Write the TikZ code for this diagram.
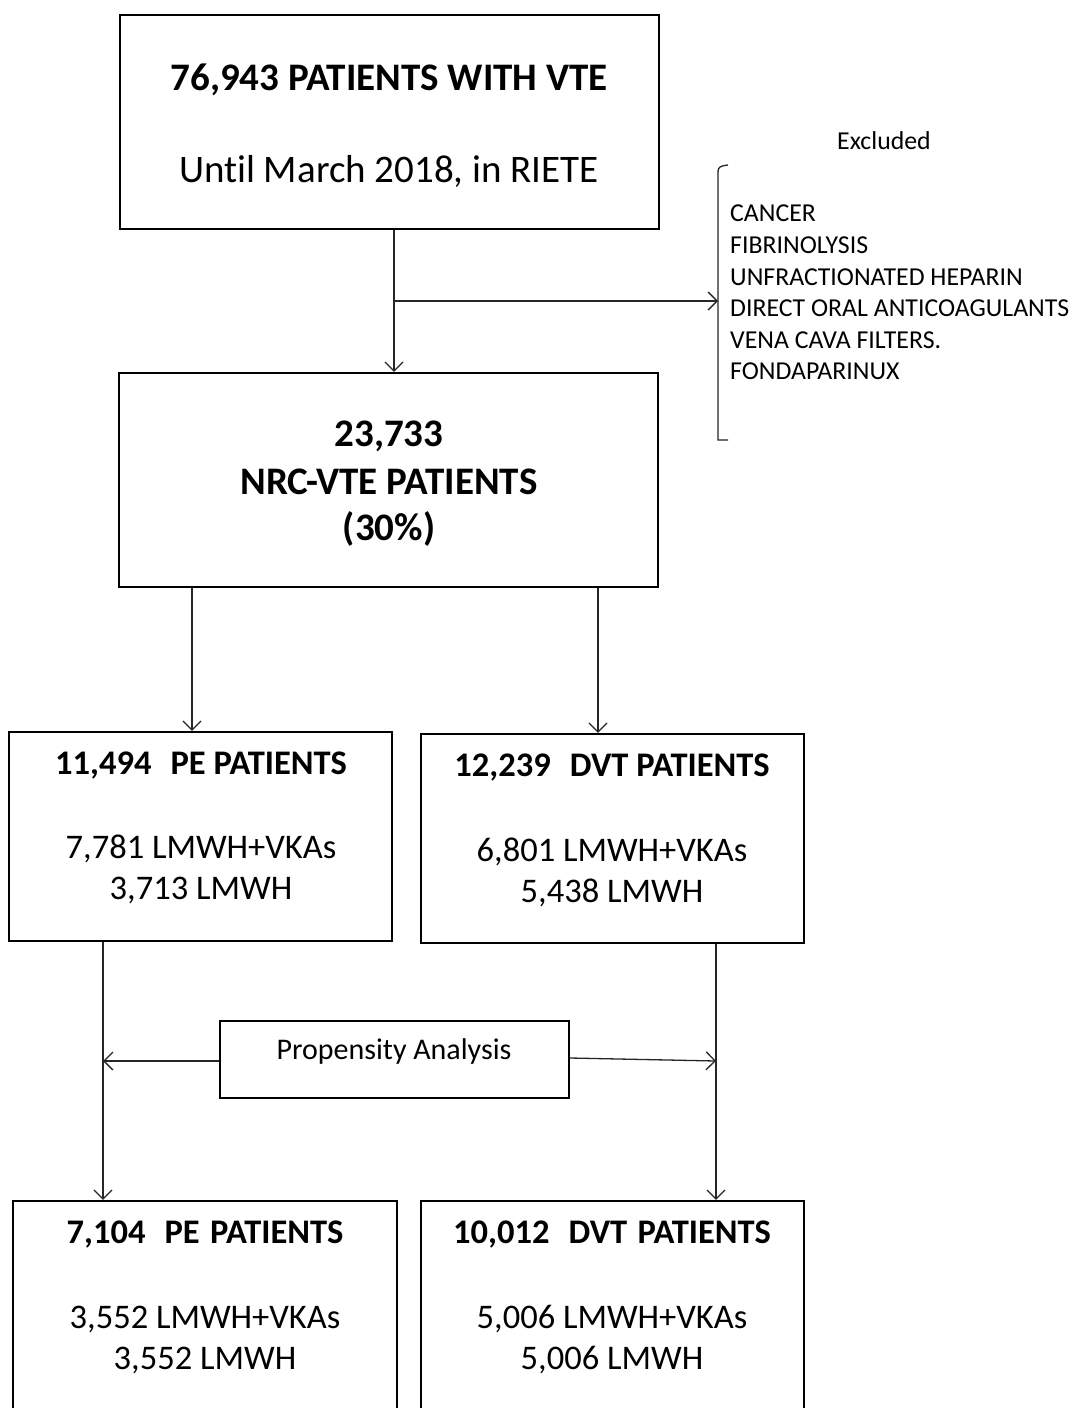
\documentclass[tikz,border=0pt]{standalone}
\usepackage{fontspec}
\setmainfont{Carlito}[Ligatures={NoCommon}]
\usetikzlibrary{arrows.meta}
\begin{document}
\begin{tikzpicture}[x=1pt,y=-1pt,
  box/.style={draw=black, line width=2.2pt, inner sep=0pt, fill=none},
  conn/.style={draw=black!85, line width=1.3pt},
  arr/.style={-{Straight Barb[length=9pt,width=18pt,line width=1.3pt]}},
  big/.style={font=\fontsize{39}{44}\selectfont, anchor=base, inner sep=0pt},
  bigb/.style={font=\fontsize{39}{44}\selectfont\bfseries, anchor=base, inner sep=0pt},
  mid/.style={font=\fontsize{34.5}{40}\selectfont, anchor=base, inner sep=0pt},
  midb/.style={font=\fontsize{34.5}{40}\selectfont\bfseries, anchor=base, inner sep=0pt},
  small/.style={font=\fontsize{25.8}{30}\selectfont, anchor=base west, inner sep=0pt},
]
\useasboundingbox (0,0) rectangle (1072,1408);
\fill[white] (0,0) rectangle (1072,1408);

% boxes
\node[box, minimum width=539pt, minimum height=214pt] (b1) at (389.5,122) {};
\node[box, minimum width=539pt, minimum height=214pt] (b2) at (388.5,480) {};
\node[box, minimum width=383pt, minimum height=209pt] (b3) at (200.5,836.5) {};
\node[box, minimum width=383pt, minimum height=209pt] (b4) at (612.5,838.5) {};
\node[box, minimum width=349pt, minimum height=77pt] (b5) at (394.5,1059.5) {};
\node[box, minimum width=384pt, minimum height=240pt] (b6) at (205,1321) {};
\node[box, minimum width=383pt, minimum height=240pt] (b7) at (612.5,1321) {};

% texts
\node[bigb] (t1) at (389,90.5) {76,943 PATIENTS WITH VTE};
\node[big] (t2) at (389,182.5) {Until March 2018, in RIETE};

\node[bigb] (t3) at (389,446.5) {23,733};
\node[bigb] (t4) at (389,494.5) {NRC-VTE PATIENTS};
\node[bigb] (t5) at (389,540.5) {(30\%)};

\node[midb] (t6) at (201,774) {11,494\hspace{0.55em}PE PATIENTS};
\node[mid] (t7) at (201,858) {7,781 LMWH+VKAs};
\node[mid] (t8) at (201,899) {3,713 LMWH};

\node[midb] (t9) at (612,776) {12,239\hspace{0.55em}DVT PATIENTS};
\node[mid] (t10) at (612,861) {6,801 LMWH+VKAs};
\node[mid] (t11) at (612,902) {5,438 LMWH};

\node[font=\fontsize{30}{36}\selectfont, anchor=base, inner sep=0pt] (t12) at (394,1059) {Propensity Analysis};

\node[midb] (t13) at (205,1243) {7,104\hspace{0.55em}PE\hspace{0.3em}PATIENTS};
\node[mid] (t14) at (205,1328) {3,552 LMWH+VKAs};
\node[mid] (t15) at (205,1369) {3,552 LMWH};

\node[midb] (t16) at (612,1243) {10,012\hspace{0.55em}DVT\hspace{0.3em}PATIENTS};
\node[mid] (t17) at (612,1328) {5,006 LMWH+VKAs};
\node[mid] (t18) at (612,1369) {5,006 LMWH};

% excluded list
\node[font=\fontsize{25.8}{30}\selectfont, anchor=base, inner sep=0pt] (ex) at (884,149) {Excluded};
\node[small] (e1) at (730,221) {CANCER};
\node[small] (e2) at (730,253) {FIBRINOLYSIS};
\node[small] (e3) at (730,285) {UNFRACTIONATED HEPARIN};
\node[small] (e4) at (730,316) {DIRECT ORAL ANTICOAGULANTS};
\node[small] (e5) at (730,348) {VENA CAVA FILTERS.};
\node[small] (e6) at (730,379) {FONDAPARINUX};

% bracket
\coordinate (brt) at (728,165);
\coordinate (brb) at (728,440);
\coordinate (brm) at (718,301);
\draw[conn] (brt) .. controls (720,166) and (718,167) .. (718,172) -- (718,440) -- (brb);

% connectors
\coordinate (jn) at (394,301);
\draw[conn,arr] (b1.south -| jn) -- (b2.north -| jn);
\draw[conn,arr] (jn) -- (brm);

\draw[conn,arr] (b2.south -| 192,0) -- (b3.north -| 192,0);
\draw[conn,arr] (b2.south -| 598,0) -- (b4.north -| 598,0);

\coordinate (lx) at (103,1061);
\coordinate (rx) at (716,1061);
\draw[conn,arr] (b3.south -| lx) -- (b6.north -| lx);
\draw[conn,arr] (b4.south -| rx) -- (b7.north -| rx);
\draw[conn,arr] (b5.west |- lx) -- (lx);
\draw[conn,arr] ([yshift=1.5pt]b5.east) -- (rx);
\end{tikzpicture}
\end{document}
